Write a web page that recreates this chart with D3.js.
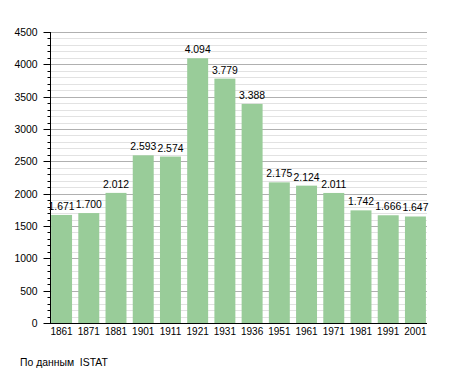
<html><head>
<meta charset="UTF-8">
<title>Population</title>
<script src="https://d3js.org/d3.v7.min.js"></script>
<style>
  body { margin: 0; background: #fff; }
  svg text { font-family: "Liberation Sans", Arial, sans-serif; font-size: 10.4px; fill: #000; }
</style>
</head>
<body>
<div id="chart"></div>
<script>
const years = ["1861","1871","1881","1901","1911","1921","1931","1936","1951","1961","1971","1981","1991","2001"];
const population = [1671,1700,2012,2593,2574,4094,3779,3388,2175,2124,2011,1742,1666,1647];
const labels = ["1.671","1.700","2.012","2.593","2.574","4.094","3.779","3.388","2.175","2.124","2.011","1.742","1.666","1.647"];
const yTicks = [0,500,1000,1500,2000,2500,3000,3500,4000,4500];

const W = 455, H = 373;
const plotLeft = 50, plotRight = 427, plotTop = 32, plotBottom = 323;

const svg = d3.select("#chart").append("svg")
    .attr("width", W).attr("height", H);

const x = d3.scaleBand().domain(years).range([plotLeft, plotRight]).paddingInner(0.23).paddingOuter(0.04);
const y = d3.scaleLinear().domain([0, 4500]).range([plotBottom, plotTop]);

// minor grid every 100
svg.append("g").selectAll("line")
    .data(d3.range(100, 4501, 100).filter(v => v % 500 !== 0))
    .enter().append("line")
    .attr("x1", plotLeft).attr("x2", plotRight)
    .attr("y1", d => Math.round(y(d)) + 0.5).attr("y2", d => Math.round(y(d)) + 0.5)
    .attr("stroke", "#e2e2e2");

// major grid
svg.append("g").selectAll("line")
    .data(yTicks.slice(1))
    .enter().append("line")
    .attr("x1", plotLeft).attr("x2", plotRight)
    .attr("y1", d => Math.round(y(d)) + 0.5).attr("y2", d => Math.round(y(d)) + 0.5)
    .attr("stroke", "#b0b0b0");

// bars
svg.append("g").selectAll("rect")
    .data(population)
    .enter().append("rect")
    .attr("x", (d, i) => x(years[i]))
    .attr("width", x.bandwidth())
    .attr("y", d => y(d))
    .attr("height", d => plotBottom - y(d))
    .attr("fill", "#99cc99");

// value labels
svg.append("g").selectAll("text")
    .data(population)
    .enter().append("text")
    .attr("x", (d, i) => x(years[i]) + x.bandwidth() / 2)
    .attr("y", d => y(d) - 5)
    .attr("text-anchor", "middle")
    .text((d, i) => labels[i]);

// y axis
const yAxis = svg.append("g").attr("transform", `translate(${plotLeft + 0.5},0)`);
yAxis.append("line").attr("y1", plotTop).attr("y2", plotBottom).attr("stroke", "#000");
yAxis.selectAll(".tick")
    .data(d3.range(0, 4501, 100))
    .enter().append("line")
    .attr("x1", d => d % 500 === 0 ? -7 : -3).attr("x2", 0)
    .attr("y1", d => Math.round(y(d)) + 0.5).attr("y2", d => Math.round(y(d)) + 0.5)
    .attr("stroke", "#000");
yAxis.selectAll("text")
    .data(yTicks)
    .enter().append("text")
    .attr("x", -13)
    .attr("y", d => y(d) + 4)
    .attr("text-anchor", "end")
    .text(d => d);

// x axis
svg.append("line")
    .attr("x1", plotLeft).attr("x2", plotRight)
    .attr("y1", plotBottom + 0.5).attr("y2", plotBottom + 0.5)
    .attr("stroke", "#000");
svg.append("g").selectAll("text")
    .data(years)
    .enter().append("text")
    .attr("x", d => x(d) + x.bandwidth() / 2)
    .attr("y", plotBottom + 12)
    .attr("text-anchor", "middle")
    .style("font-size", "10px")
    .text(d => d);

svg.append("text")
    .attr("x", 20).attr("y", 366)
    .text("По данным  ISTAT")
    .style("white-space", "pre");
</script>
</body>
</html>
